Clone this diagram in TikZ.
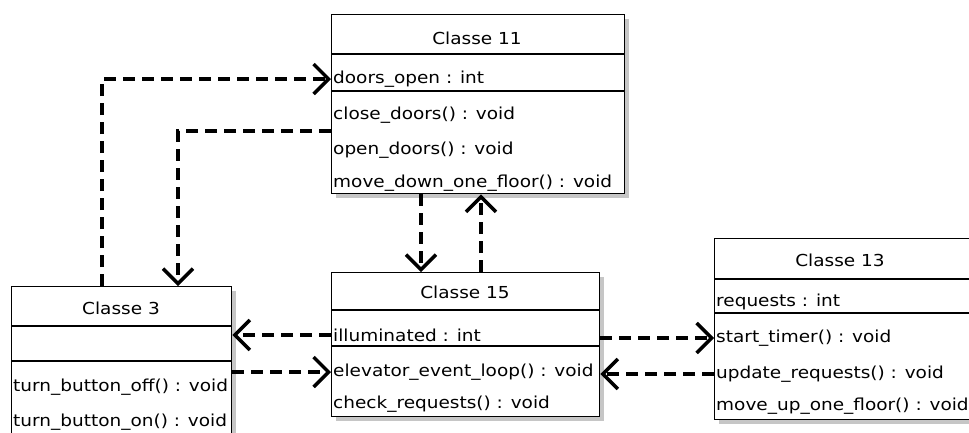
\documentclass[tikz,border=0pt]{standalone}
\usepackage{fontspec}
\newfontfamily\umlfont[FakeStretch=1.12]{DejaVu Sans}
\usetikzlibrary{arrows.meta,shadows}
\begin{document}
\begin{tikzpicture}[x=1pt,y=-1pt,
  box/.style={draw=black,line width=1.4pt,fill=white,anchor=north west,inner sep=0pt,
    drop shadow={shadow xshift=4pt,shadow yshift=-4pt,fill=gray!45,opacity=1}},
  sep/.style={draw=black,line width=1.4pt},
  lbl/.style={anchor=west,inner sep=0pt,font=\umlfont\fontsize{16.5}{16.5}\selectfont},
  ttl/.style={anchor=center,inner sep=0pt,font=\umlfont\fontsize{16.5}{16.5}\selectfont},
  dep/.style={draw=black,line width=3.2pt,dash pattern=on 12pt off 7pt,
    -{Straight Barb[length=15pt,width=30pt,line width=3.5pt]}}]
\path[use as bounding box] (0,0) rectangle (969,432);
\clip (0,0) rectangle (969,432);
% Classe 11
\node[box,minimum width=293pt,minimum height=179pt] (c11) at (331,14) {};
\draw[sep] ([yshift=-40pt]c11.north west) -- ([yshift=-40pt]c11.north east);
\draw[sep] ([yshift=-77pt]c11.north west) -- ([yshift=-77pt]c11.north east);
\node[ttl] (t11) at (477,38) {Classe 11};
\node[lbl] (doors) at (333,79) {doors\_open : int};
\node[lbl] (close) at (333,115) {close\_doors() : void};
\node[lbl] (open) at (333,150) {open\_doors() : void};
\node[lbl] (down) at (333,183) {move\_down\_one\_floor() : void};
% Classe 3
\node[box,minimum width=220pt,minimum height=170pt] (c3) at (11,286) {};
\draw[sep] ([yshift=-40pt]c3.north west) -- ([yshift=-40pt]c3.north east);
\draw[sep] ([yshift=-75pt]c3.north west) -- ([yshift=-75pt]c3.north east);
\node[ttl] (t3) at (121,308) {Classe 3};
\node[lbl] (off) at (13,387) {turn\_button\_off() : void};
\node[lbl] (on) at (13,422) {turn\_button\_on() : void};
% Classe 15
\node[box,minimum width=268pt,minimum height=144pt] (c15) at (331,272) {};
\draw[sep] ([yshift=-38pt]c15.north west) -- ([yshift=-38pt]c15.north east);
\draw[sep] ([yshift=-74pt]c15.north west) -- ([yshift=-74pt]c15.north east);
\node[ttl] (t15) at (465,292) {Classe 15};
\node[lbl] (illum) at (333,335) {illuminated : int};
\node[lbl] (elev) at (333,372) {elevator\_event\_loop() : void};
\node[lbl] (check) at (333,404) {check\_requests() : void};
% Classe 13
\node[box,minimum width=290pt,minimum height=181pt] (c13) at (714,238) {};
\draw[sep] ([yshift=-41pt]c13.north west) -- ([yshift=-41pt]c13.north east);
\draw[sep] ([yshift=-75pt]c13.north west) -- ([yshift=-75pt]c13.north east);
\node[ttl] (t13) at (840,260) {Classe 13};
\node[lbl] (req) at (716,302) {requests : int};
\node[lbl] (timer) at (716,338) {start\_timer() : void};
\node[lbl] (upd) at (716,374) {update\_requests() : void};
\node[lbl] (up) at (716,406) {move\_up\_one\_floor() : void};
% connectors
\draw[dep] ([xshift=91pt]c3.north west) |- (c11.west |- doors.west);
\draw[dep] ([yshift=-117pt]c11.north west) -| ([xshift=167pt]c3.north west);
\draw[dep] ([xshift=90pt]c11.south west) -- ([xshift=90pt]c15.north west);
\draw[dep] ([xshift=150pt]c15.north west) -- ([xshift=150pt]c11.south west);
\draw[dep] (c15.west |- illum.west) -- (c3.east |- illum.west);
\draw[dep] (c3.east |- elev.west) -- (c15.west |- elev.west);
\draw[dep] (c15.east |- timer.west) -- (c13.west |- timer.west);
\draw[dep] (c13.west |- upd.west) -- (c15.east |- upd.west);
\end{tikzpicture}
\end{document}
